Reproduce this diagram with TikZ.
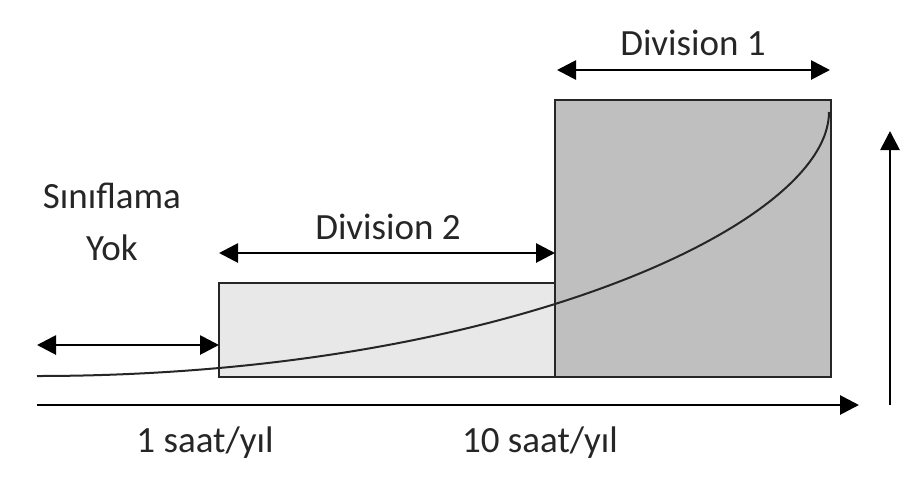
\documentclass[tikz,border=0pt]{standalone}
\usepackage{fontspec}
\setmainfont{Carlito}
\usetikzlibrary{arrows.meta}
\definecolor{divone}{HTML}{BFBFBF}
\definecolor{divtwo}{HTML}{E8E8E8}
\definecolor{ink}{HTML}{262626}
\begin{document}
\begin{tikzpicture}[x=1pt,y=-1pt,
  lbl/.style={font=\fontsize{37}{40}\selectfont, text=ink, inner sep=0pt, anchor=base},
  arr/.style={line width=2.8pt, -{Triangle[length=19pt,width=19pt]}},
  dbl/.style={line width=2.8pt, {Triangle[length=19pt,width=19pt]}-{Triangle[length=19pt,width=19pt]}},
  box/.style={draw=ink, line width=2pt, inner sep=0pt, outer sep=0pt, anchor=north west}]
\useasboundingbox (0,0) rectangle (908,483);
\fill[white] (0,0) rectangle (908,483);
% boxes
\node[box, fill=divtwo, minimum width=336pt, minimum height=94pt] (d2) at (219,283) {};
\node[box, fill=divone, minimum width=276pt, minimum height=277pt] (d1) at (555,100) {};
% curve
\coordinate (c0) at (37,376);
\coordinate (c1) at (829,112);
\draw[ink, line width=2pt] (c0) .. controls (500,376) and (829,225) .. (c1);
% arrows
\coordinate (l0) at (37,345);
\coordinate (a2l) at (219,253);
\coordinate (a2r) at (555,253);
\coordinate (a1l) at (557,70);
\coordinate (a1r) at (830,70);
\coordinate (xs) at (37,405);
\coordinate (xe) at (859,405);
\coordinate (ys) at (890,405);
\coordinate (ye) at (890,131);
\draw[dbl] (l0) -- (l0 -| d2.west);
\draw[dbl] (a2l) -- (a2r);
\draw[dbl] (a1l) -- (a1r);
\draw[arr] (xs) -- (xe);
\draw[arr] (ys) -- (ye);
% labels
\node[lbl] (t1) at (693,55) {Division 1};
\node[lbl] (t2) at (388,239) {Division 2};
\node[lbl] (t3) at (112,208) {Sınıflama};
\node[lbl] (t4) at (112,260) {Yok};
\node[lbl] (t5) at (205,452) {1 saat/yıl};
\node[lbl] (t6) at (540,452) {10 saat/yıl};
\end{tikzpicture}
\end{document}
